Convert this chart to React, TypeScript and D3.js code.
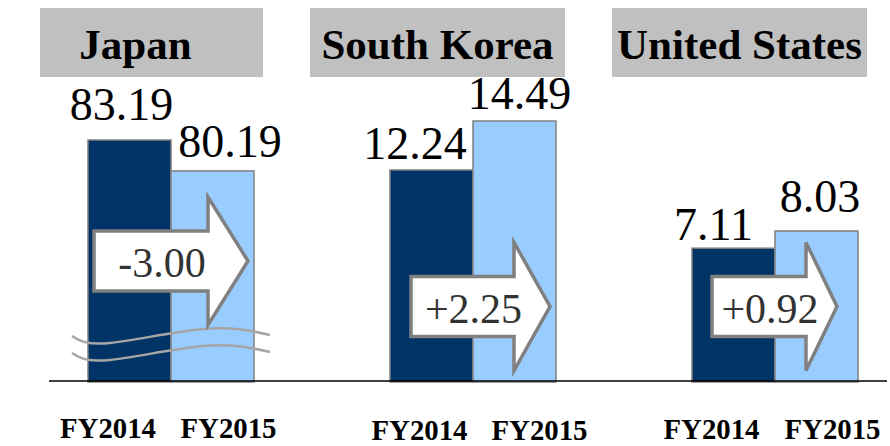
import React from 'react';
import * as d3 from 'd3';

const countries = ['Japan', 'South Korea', 'United States'];
const years = ['FY2014', 'FY2015'];
const fy2014 = [83.19, 12.24, 7.11];
const fy2015 = [80.19, 14.49, 8.03];

// layout tweaks (not data)
const panelFloor = [59.8, 2.55, 0]; // value sitting on the baseline (Japan axis is broken)
const panelTopY = [140, 121, 231];
const labelNudge = [
  [[-8, -20], [17.5, -14]],
  [[-16.5, -11], [5, -12]],
  [[-20, -8], [3.5, -19]],
];
const yearNudge = [[-21.5, 16], [-12, 25], [-22, 16]];
const yearBase = [438, 439.5, 439];
const arrowLayout = [
  // body start, head start, tip (relative to group centre), centre y
  { x0: -77, x1: 37, x2: 77, cy: 261 },
  { x0: -62, x1: 41, x2: 77, cy: 306.5 },
  { x0: -63, x1: 31, x2: 62, cy: 306.5 },
];

const W = 890;
const H = 446;
const baseY = 381;
const serif = '"Liberation Serif", "Times New Roman", serif';
const colors = ['#003366', '#99ccff'];

const fmtChange = (d: number) => (d > 0 ? '+' : '') + d.toFixed(2);

const App = () => {
  const x = d3.scaleBand<string>().domain(countries).range([20, 926]).padding(0);
  const inner = d3.scaleBand<string>().domain(years).range([-83, 83]).padding(0);
  const wave = d3
    .line<[number, number]>()
    .x((d) => d[0])
    .y((d) => d[1])
    .curve(d3.curveNatural);
  // break marks on the Japan bars
  const waveShape: [number, number][] = [
    [-99, 0],
    [-61, 7],
    [32, -7],
    [99, -1],
  ];

  return (
    <svg width={W} height={H} style={{ position: 'absolute', left: 0, top: 0, background: '#fff' }}>
      {countries.map((c, i) => {
        const cx = (x(c) as number) + x.bandwidth() / 2;
        const values = [fy2014[i], fy2015[i]];
        const y = d3
          .scaleLinear()
          .domain([panelFloor[i], d3.max(values) as number])
          .range([baseY, panelTopY[i]]);
        const a = arrowLayout[i];
        const bx0 = cx + a.x0;
        const bx1 = cx + a.x1;
        const tip = cx + a.x2;
        const arrowPts = [
          [bx0, a.cy - 30],
          [bx1, a.cy - 30],
          [bx1, a.cy - 64],
          [tip, a.cy],
          [bx1, a.cy + 64],
          [bx1, a.cy + 30],
          [bx0, a.cy + 30],
        ]
          .map((p) => p.join(','))
          .join(' ');
        const boxLeft = Math.max(40, cx - 163);
        return (
          <g key={c}>
            <rect x={boxLeft} y={8} width={cx + 92 - boxLeft} height={69} fill="#c0c0c0" />
            <text
              x={cx - 35.5}
              y={59}
              textAnchor="middle"
              fontFamily={serif}
              fontWeight="bold"
              fontSize={43}
              fill="#000"
            >
              {c}
            </text>
            {years.map((yr, j) => (
              <rect
                key={yr}
                x={cx + (inner(yr) as number)}
                y={y(values[j])}
                width={inner.bandwidth()}
                height={baseY - y(values[j]) + 1}
                fill={colors[j]}
                stroke="#808080"
                strokeWidth={1.5}
              />
            ))}
            {i === 0 &&
              [0, 17].map((off) => (
                <path
                  key={off}
                  d={wave(waveShape.map(([dx, dy]) => [cx + dx, 336 + off + dy])) as string}
                  fill="none"
                  stroke="#a6a6a6"
                  strokeWidth={2.5}
                />
              ))}
            <polygon points={arrowPts} fill="#fff" stroke="#808080" strokeWidth={3.5} />
            <text
              x={(bx0 + bx1) / 2 + 11}
              y={a.cy + 16}
              textAnchor="middle"
              fontFamily={serif}
              fontSize={42}
              fill="#333"
            >
              {fmtChange(values[1] - values[0])}
            </text>
            {years.map((yr, j) => (
              <text
                key={yr}
                x={cx + (inner(yr) as number) + inner.bandwidth() / 2 + labelNudge[i][j][0]}
                y={y(values[j]) + labelNudge[i][j][1]}
                textAnchor="middle"
                fontFamily={serif}
                fontSize={46}
                fill="#000"
              >
                {values[j].toFixed(2)}
              </text>
            ))}
            {years.map((yr, j) => (
              <text
                key={yr + 'l'}
                x={cx + (inner(yr) as number) + inner.bandwidth() / 2 + yearNudge[i][j] - 48}
                y={yearBase[i]}
                fontFamily={serif}
                fontWeight="bold"
                fontSize={30}
                textLength={96}
                lengthAdjust="spacingAndGlyphs"
                fill="#000"
              >
                {yr}
              </text>
            ))}
          </g>
        );
      })}
      <line x1={49} x2={887} y1={baseY} y2={baseY} stroke="#000" strokeWidth={1.5} />
    </svg>
  );
};

export default App;
